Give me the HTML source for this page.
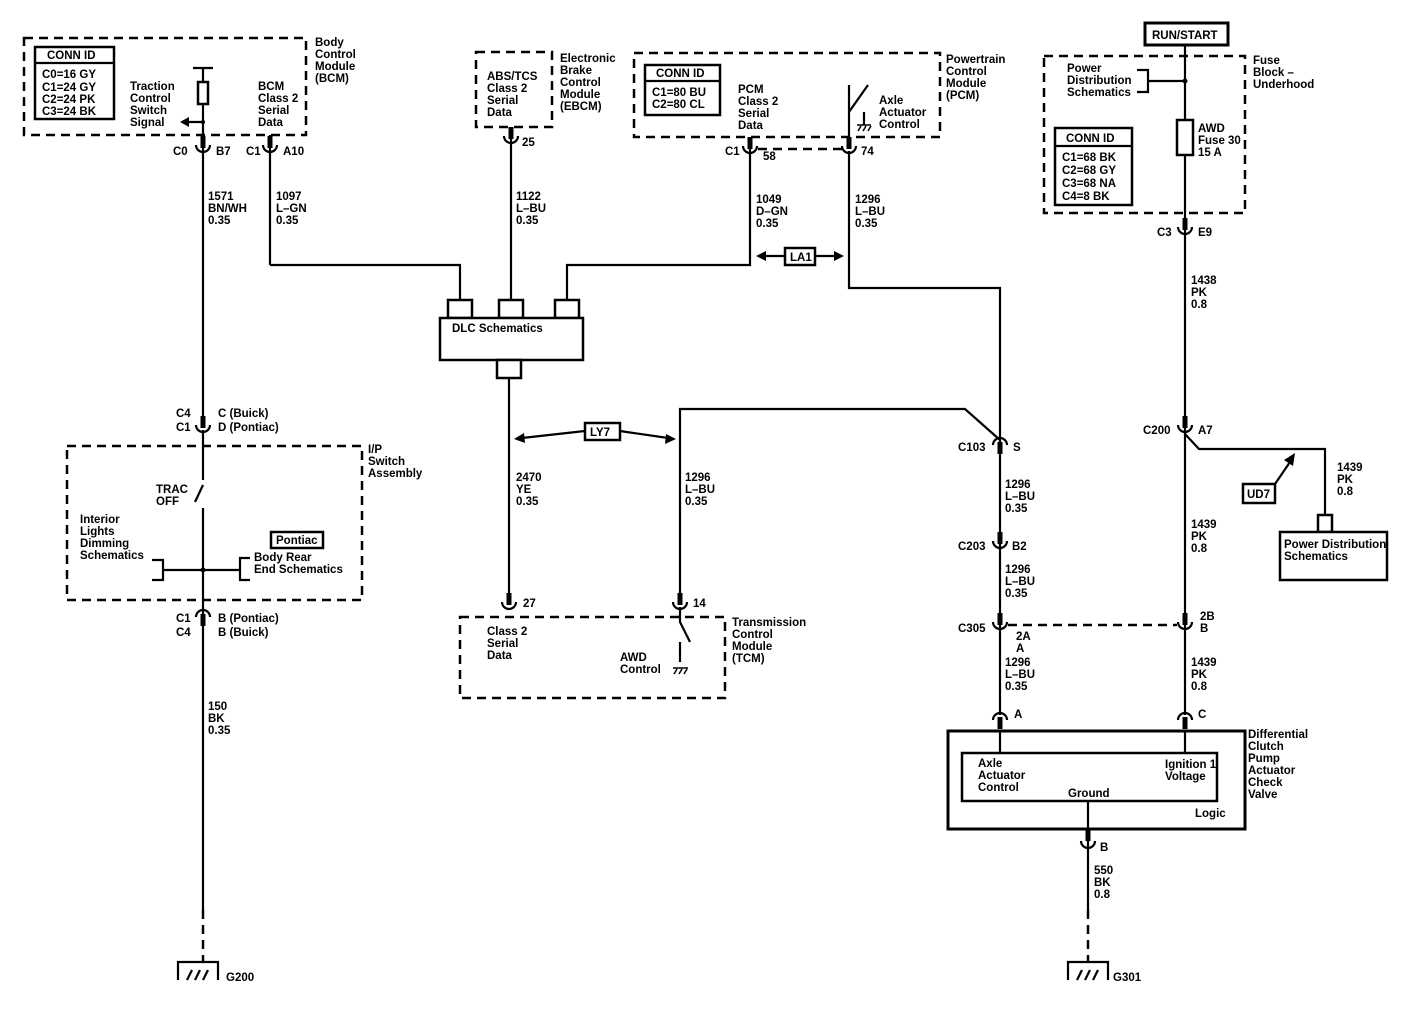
<!DOCTYPE html>
<html><head><meta charset="utf-8"><style>
html,body{margin:0;padding:0;background:#fff}
svg{display:block}
text{font-family:"Liberation Sans",Arial,sans-serif;font-size:11.5px;font-weight:bold;fill:#000}
.w{stroke:#000;stroke-width:2.2;fill:none}
.d{stroke:#000;stroke-width:2.5;fill:none;stroke-dasharray:9 6}
.t{stroke:#000;stroke-width:1.5;fill:none}
.b{stroke:#000;stroke-width:2.5;fill:#fff}
</style></head><body>
<svg width="1408" height="1010" viewBox="0 0 1408 1010" xmlns="http://www.w3.org/2000/svg">
<defs>
<g id="cu"><path d="M-7,-5 A7,7 0 0 0 7,-5" class="w" stroke-width="2.5"/><rect x="-2.5" y="-14" width="5" height="12" fill="#000"/></g>
<g id="cn"><path d="M-7,5 A7,7 0 0 1 7,5" class="w" stroke-width="2.5"/><rect x="-2.5" y="2" width="5" height="12" fill="#000"/></g>
<g id="gnd"><path d="M-20,18 V0 H20 V18" class="w" stroke-width="2.5"/><path d="M-11,18 L-6,8 M-3,18 L2,8 M5,18 L10,8" class="w"/></g>
</defs>

<!-- BCM -->
<rect x="24" y="38" width="282" height="97" class="d"/>
<rect x="35" y="47" width="79" height="72" class="b" stroke-width="2.5"/>
<line x1="35" y1="63" x2="114" y2="63" class="w"/>
<text x="47" y="59">CONN ID</text>
<text x="42" y="78">C0=16 GY</text><text x="42" y="91">C1=24 GY</text><text x="42" y="103">C2=24 PK</text><text x="42" y="115">C3=24 BK</text>
<text x="130" y="90">Traction</text><text x="130" y="102">Control</text><text x="130" y="114">Switch</text><text x="130" y="126">Signal</text>
<text x="258" y="90">BCM</text><text x="258" y="102">Class 2</text><text x="258" y="114">Serial</text><text x="258" y="126">Data</text>
<text x="315" y="46">Body</text><text x="315" y="58">Control</text><text x="315" y="70">Module</text><text x="315" y="82">(BCM)</text>
<line x1="193" y1="68" x2="213" y2="68" class="w"/>
<line x1="203" y1="68" x2="203" y2="82" class="w"/>
<rect x="198" y="82" width="10" height="22" class="b" stroke-width="2"/>
<line x1="203" y1="104" x2="203" y2="150" class="w"/>
<line x1="203" y1="122" x2="186" y2="122" class="w"/><path d="M180,122 L189,117 L189,127 Z"/>
<circle cx="203" cy="122" r="2"/>
<use href="#cu" x="203" y="150"/><text x="173" y="155">C0</text><text x="216" y="155">B7</text>
<use href="#cu" x="270" y="150"/><text x="246" y="155">C1</text><text x="283" y="155">A10</text>
<line x1="270" y1="135" x2="270" y2="150" class="w"/>
<line x1="203" y1="150" x2="203" y2="420" class="w"/>
<text x="208" y="200">1571</text><text x="208" y="212">BN/WH</text><text x="208" y="224">0.35</text>
<line x1="270" y1="150" x2="270" y2="265" class="w"/>
<text x="276" y="200">1097</text><text x="276" y="212">L–GN</text><text x="276" y="224">0.35</text>
<path d="M270,265 H460 V300" class="w"/>

<!-- EBCM -->
<rect x="476" y="52" width="76" height="75" class="d"/>
<text x="487" y="80">ABS/TCS</text><text x="487" y="92">Class 2</text><text x="487" y="104">Serial</text><text x="487" y="116">Data</text>
<text x="560" y="62">Electronic</text><text x="560" y="74">Brake</text><text x="560" y="86">Control</text><text x="560" y="98">Module</text><text x="560" y="110">(EBCM)</text>
<line x1="511" y1="127" x2="511" y2="300" class="w"/>
<use href="#cu" x="511" y="141"/><text x="522" y="146">25</text>
<text x="516" y="200">1122</text><text x="516" y="212">L–BU</text><text x="516" y="224">0.35</text>

<!-- DLC -->
<rect x="448" y="300" width="24" height="18" class="b" stroke-width="2"/>
<rect x="499" y="300" width="24" height="18" class="b" stroke-width="2"/>
<rect x="555" y="300" width="24" height="18" class="b" stroke-width="2"/>
<rect x="440" y="318" width="143" height="42" class="b" stroke-width="2"/>
<text x="452" y="332">DLC Schematics</text>
<rect x="497" y="360" width="24" height="18" class="b" stroke-width="2"/>
<line x1="509" y1="378" x2="509" y2="600" class="w"/>
<path d="M750,137 V265 H567 V300" class="w"/>

<!-- PCM -->
<rect x="634" y="53" width="306" height="84" class="d"/>
<rect x="645" y="65" width="75" height="50" class="b" stroke-width="2.5"/>
<line x1="645" y1="81" x2="720" y2="81" class="w"/>
<text x="656" y="77">CONN ID</text><text x="652" y="96">C1=80 BU</text><text x="652" y="108">C2=80 CL</text>
<text x="738" y="93">PCM</text><text x="738" y="105">Class 2</text><text x="738" y="117">Serial</text><text x="738" y="129">Data</text>
<text x="946" y="63">Powertrain</text><text x="946" y="75">Control</text><text x="946" y="87">Module</text><text x="946" y="99">(PCM)</text>
<text x="879" y="104">Axle</text><text x="879" y="116">Actuator</text><text x="879" y="128">Control</text>
<path d="M849,137 V112 L868,85 M864,112 V125" class="w"/>
<line x1="849" y1="112" x2="849" y2="85" class="w" stroke-width="1"/>
<path d="M857,125 H871 M858,131 L861,126 M863,131 L866,126 M868,131 L871,126" class="t"/>
<use href="#cu" x="750" y="151"/><text x="725" y="155">C1</text><text x="763" y="160">58</text>
<use href="#cu" x="849" y="151"/><text x="861" y="155">74</text>
<line x1="758" y1="149" x2="842" y2="149" class="d" stroke-width="2" stroke-dasharray="6 5"/>
<text x="756" y="203">1049</text><text x="756" y="215">D–GN</text><text x="756" y="227">0.35</text>
<text x="855" y="203">1296</text><text x="855" y="215">L–BU</text><text x="855" y="227">0.35</text>
<path d="M849,151 V288 H1000 V440" class="w"/>
<rect x="785" y="248" width="30" height="17" class="b" stroke-width="2"/><text x="790" y="261">LA1</text>
<line x1="785" y1="256" x2="763" y2="256" class="w"/><path d="M756,256 L766,251 L766,261Z"/>
<line x1="815" y1="256" x2="837" y2="256" class="w"/><path d="M844,256 L834,251 L834,261Z"/>

<!-- LY7 & TCM -->
<rect x="585" y="423" width="35" height="17" class="b" stroke-width="2"/><text x="590" y="436">LY7</text>
<line x1="585" y1="431" x2="522" y2="438" class="w"/><path d="M514,439 L524,433 L525,443Z"/>
<line x1="620" y1="431" x2="668" y2="438" class="w"/><path d="M676,439 L666,434 L665,444Z"/>
<text x="516" y="481">2470</text><text x="516" y="493">YE</text><text x="516" y="505">0.35</text>
<path d="M680,600 V409 H965 L1000,440" class="w"/>
<text x="685" y="481">1296</text><text x="685" y="493">L–BU</text><text x="685" y="505">0.35</text>
<use href="#cu" x="509" y="607"/><text x="523" y="607">27</text>
<use href="#cu" x="680" y="607"/><text x="693" y="607">14</text>
<rect x="460" y="617" width="265" height="81" class="d"/>
<text x="487" y="635">Class 2</text><text x="487" y="647">Serial</text><text x="487" y="659">Data</text>
<text x="620" y="661">AWD</text><text x="620" y="673">Control</text>
<path d="M680,607 V622 L690,642 M680,642 V662" class="w"/>
<path d="M673,668 H688 M674,674 L677,669 M679,674 L682,669 M684,674 L687,669" class="t"/>
<text x="732" y="626">Transmission</text><text x="732" y="638">Control</text><text x="732" y="650">Module</text><text x="732" y="662">(TCM)</text>

<!-- Left chain -->
<use href="#cu" x="203" y="430"/>
<text x="176" y="417">C4</text><text x="218" y="417">C (Buick)</text>
<text x="176" y="431">C1</text><text x="218" y="431">D (Pontiac)</text>
<rect x="67" y="446" width="295" height="154" class="d"/>
<text x="368" y="453">I/P</text><text x="368" y="465">Switch</text><text x="368" y="477">Assembly</text>
<line x1="203" y1="430" x2="203" y2="480" class="w"/>
<line x1="203" y1="485" x2="195" y2="502" class="w"/>
<line x1="203" y1="508" x2="203" y2="620" class="w"/>
<text x="156" y="493">TRAC</text><text x="156" y="505">OFF</text>
<text x="80" y="523">Interior</text><text x="80" y="535">Lights</text><text x="80" y="547">Dimming</text><text x="80" y="559">Schematics</text>
<path d="M152,560 H163 V580 H152" class="w"/><line x1="163" y1="570" x2="240" y2="570" class="w"/>
<path d="M250,558 H240 V580 H250" class="w"/><circle cx="203" cy="570" r="2.5"/>
<rect x="271" y="532" width="52" height="16" class="b" stroke-width="2"/><text x="276" y="544">Pontiac</text>
<text x="254" y="561">Body Rear</text><text x="254" y="573">End Schematics</text>
<use href="#cn" x="203" y="612"/>
<text x="176" y="622">C1</text><text x="218" y="622">B (Pontiac)</text>
<text x="176" y="636">C4</text><text x="218" y="636">B (Buick)</text>
<line x1="203" y1="612" x2="203" y2="910" class="w"/>
<text x="208" y="710">150</text><text x="208" y="722">BK</text><text x="208" y="734">0.35</text>
<line x1="203" y1="910" x2="203" y2="962" class="d" stroke-width="3" stroke-dasharray="14 10"/>
<use href="#gnd" x="198" y="962"/><text x="226" y="981">G200</text>

<!-- Right column 1000 -->
<use href="#cn" x="1000" y="440"/><text x="958" y="451">C103</text><text x="1013" y="451">S</text>
<line x1="1000" y1="440" x2="1000" y2="715" class="w"/>
<text x="1005" y="488">1296</text><text x="1005" y="500">L–BU</text><text x="1005" y="512">0.35</text>
<use href="#cu" x="1000" y="546"/><text x="958" y="550">C203</text><text x="1012" y="550">B2</text>
<text x="1005" y="573">1296</text><text x="1005" y="585">L–BU</text><text x="1005" y="597">0.35</text>
<use href="#cu" x="1000" y="627"/><text x="958" y="632">C305</text>
<text x="1016" y="640">2A</text><text x="1016" y="652">A</text>
<line x1="1008" y1="625" x2="1177" y2="625" class="d" stroke-width="2" stroke-dasharray="7 5"/>
<text x="1005" y="666">1296</text><text x="1005" y="678">L–BU</text><text x="1005" y="690">0.35</text>
<use href="#cn" x="1000" y="715"/><text x="1014" y="718">A</text>

<!-- Fuse block -->
<rect x="1145" y="23" width="83" height="22" fill="#fff" stroke="#000" stroke-width="3"/>
<text x="1152" y="39">RUN/START</text>
<rect x="1044" y="56" width="201" height="157" class="d"/>
<text x="1253" y="64">Fuse</text><text x="1253" y="76">Block –</text><text x="1253" y="88">Underhood</text>
<text x="1067" y="72">Power</text><text x="1067" y="84">Distribution</text><text x="1067" y="96">Schematics</text>
<path d="M1137,70 H1148 V92 H1137" class="w"/><line x1="1148" y1="81" x2="1185" y2="81" class="w"/>
<line x1="1185" y1="45" x2="1185" y2="120" class="w"/><circle cx="1185" cy="81" r="2.5"/>
<rect x="1177" y="120" width="16" height="35" class="b" stroke-width="2"/>
<text x="1198" y="132">AWD</text><text x="1198" y="144">Fuse 30</text><text x="1198" y="156">15 A</text>
<rect x="1055" y="128" width="77" height="77" class="b" stroke-width="2.5"/>
<line x1="1055" y1="146" x2="1132" y2="146" class="w"/>
<text x="1066" y="142">CONN ID</text>
<text x="1062" y="161">C1=68 BK</text><text x="1062" y="174">C2=68 GY</text><text x="1062" y="187">C3=68 NA</text><text x="1062" y="200">C4=8 BK</text>
<line x1="1185" y1="155" x2="1185" y2="715" class="w"/>
<use href="#cu" x="1185" y="232"/><text x="1157" y="236">C3</text><text x="1198" y="236">E9</text>
<text x="1191" y="284">1438</text><text x="1191" y="296">PK</text><text x="1191" y="308">0.8</text>
<use href="#cu" x="1185" y="430"/><text x="1143" y="434">C200</text><text x="1198" y="434">A7</text>
<path d="M1185,434 L1199,449 H1325 V515" class="w"/>
<text x="1337" y="471">1439</text><text x="1337" y="483">PK</text><text x="1337" y="495">0.8</text>
<rect x="1318" y="515" width="14" height="17" class="b" stroke-width="2"/>
<rect x="1280" y="532" width="107" height="48" class="b" stroke-width="2"/>
<text x="1284" y="548">Power Distribution</text><text x="1284" y="560">Schematics</text>
<rect x="1243" y="484" width="32" height="19" class="b" stroke-width="2"/><text x="1247" y="498">UD7</text>
<line x1="1275" y1="484" x2="1290" y2="462" class="w"/><path d="M1295,453 L1293,466 L1284,460Z"/>
<text x="1191" y="528">1439</text><text x="1191" y="540">PK</text><text x="1191" y="552">0.8</text>
<use href="#cu" x="1185" y="627"/><text x="1200" y="620">2B</text><text x="1200" y="632">B</text>
<text x="1191" y="666">1439</text><text x="1191" y="678">PK</text><text x="1191" y="690">0.8</text>
<use href="#cn" x="1185" y="715"/><text x="1198" y="718">C</text>

<!-- Diff module -->
<rect x="948" y="731" width="297" height="98" fill="none" stroke="#000" stroke-width="3"/>
<rect x="962" y="753" width="255" height="48" fill="none" stroke="#000" stroke-width="2.5"/>
<line x1="1000" y1="731" x2="1000" y2="753" class="w"/>
<line x1="1185" y1="731" x2="1185" y2="753" class="w"/>
<text x="978" y="767">Axle</text><text x="978" y="779">Actuator</text><text x="978" y="791">Control</text>
<text x="1165" y="768">Ignition 1</text><text x="1165" y="780">Voltage</text>
<text x="1068" y="797">Ground</text><text x="1195" y="817">Logic</text>
<text x="1248" y="738">Differential</text><text x="1248" y="750">Clutch</text><text x="1248" y="762">Pump</text><text x="1248" y="774">Actuator</text><text x="1248" y="786">Check</text><text x="1248" y="798">Valve</text>
<line x1="1088" y1="801" x2="1088" y2="910" class="w"/>
<rect x="1085.5" y="829" width="5" height="12" fill="#000"/>
<path d="M1081,841 A7,7 0 0 0 1095,841" class="w" stroke-width="2.5"/><text x="1100" y="851">B</text>
<text x="1094" y="874">550</text><text x="1094" y="886">BK</text><text x="1094" y="898">0.8</text>
<line x1="1088" y1="910" x2="1088" y2="962" class="d" stroke-width="3" stroke-dasharray="14 10"/>
<use href="#gnd" x="1088" y="962"/><text x="1113" y="981">G301</text>
</svg>
</body></html>
